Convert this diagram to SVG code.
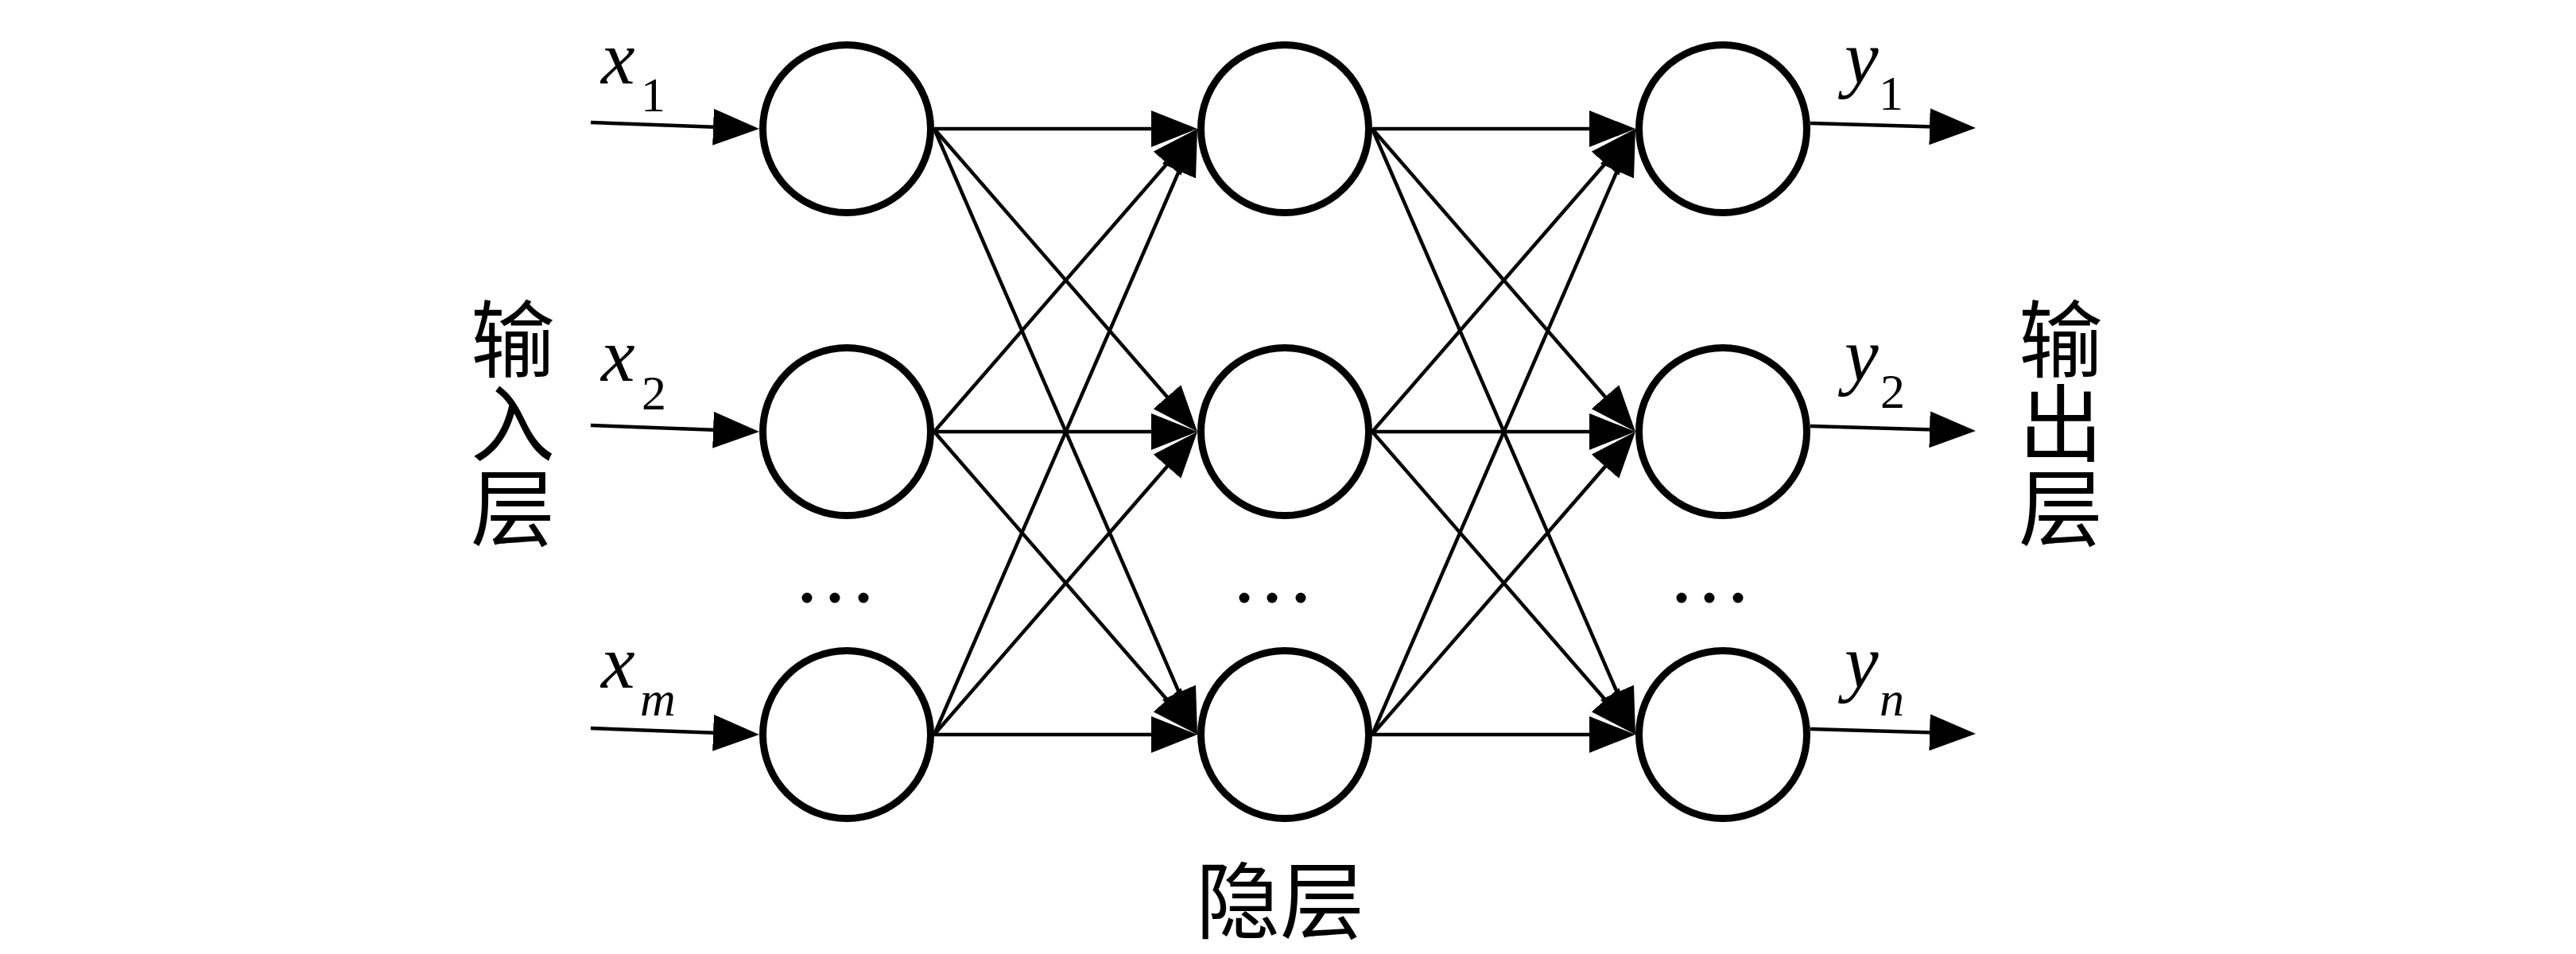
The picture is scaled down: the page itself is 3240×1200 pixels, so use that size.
<svg xmlns="http://www.w3.org/2000/svg" width="3240" height="1200" viewBox="0 0 3240 1200">
<style>
.node{fill:#fff;stroke:#000;stroke-width:9}
.conn{stroke:#000;stroke-width:4.5;fill:none;marker-end:url(#ah)}
.var{font-family:"Liberation Serif","Times New Roman",serif;font-style:italic;font-size:96px;fill:#000}
.sub{font-family:"Liberation Serif","Times New Roman",serif;font-size:62px;fill:#000}
.subi{font-family:"Liberation Serif","Times New Roman",serif;font-style:italic;font-size:62px;fill:#000}
.cjk{font-family:"Noto Sans CJK SC","Noto Sans",sans-serif;font-size:106px;fill:#000;text-anchor:middle}
.vcjk{font-family:"Noto Sans CJK SC","Noto Sans",sans-serif;font-size:106px;fill:#000;writing-mode:vertical-rl;text-anchor:start}
.dot{fill:#000}
</style>
<defs>
<marker id="ah" viewBox="0 0 58 46" refX="48" refY="23" markerWidth="58" markerHeight="46" markerUnits="userSpaceOnUse" orient="auto">
<path d="M0,0 L58,23 L0,46 Z" fill="#000"/>
</marker>
</defs>
<rect width="3240" height="1200" fill="#fff"/>

<g id="connectors">
<line class="conn" x1="743" y1="154" x2="945" y2="161.6"/>
<line class="conn" x1="743" y1="535" x2="945" y2="542.6"/>
<line class="conn" x1="743" y1="916" x2="945" y2="923.6"/>
<line class="conn" x1="1175" y1="162" x2="1496" y2="162"/>
<line class="conn" x1="1175" y1="162" x2="1499.44" y2="535.45"/>
<line class="conn" x1="1175" y1="162" x2="1502.02" y2="914.83"/>
<line class="conn" x1="1175" y1="543" x2="1499.44" y2="169.55"/>
<line class="conn" x1="1175" y1="543" x2="1496" y2="543"/>
<line class="conn" x1="1175" y1="543" x2="1499.44" y2="916.45"/>
<line class="conn" x1="1175" y1="924" x2="1502.02" y2="171.17"/>
<line class="conn" x1="1175" y1="924" x2="1499.44" y2="550.55"/>
<line class="conn" x1="1175" y1="924" x2="1496" y2="924"/>
<line class="conn" x1="1726" y1="162" x2="2047" y2="162"/>
<line class="conn" x1="1726" y1="162" x2="2050.44" y2="535.45"/>
<line class="conn" x1="1726" y1="162" x2="2053.02" y2="914.83"/>
<line class="conn" x1="1726" y1="543" x2="2050.44" y2="169.55"/>
<line class="conn" x1="1726" y1="543" x2="2047" y2="543"/>
<line class="conn" x1="1726" y1="543" x2="2050.44" y2="916.45"/>
<line class="conn" x1="1726" y1="924" x2="2053.02" y2="171.17"/>
<line class="conn" x1="1726" y1="924" x2="2050.44" y2="550.55"/>
<line class="conn" x1="1726" y1="924" x2="2047" y2="924"/>
<line class="conn" x1="2277" y1="155" x2="2475" y2="160.7"/>
<line class="conn" x1="2277" y1="536" x2="2475" y2="541.7"/>
<line class="conn" x1="2277" y1="917" x2="2475" y2="922.7"/>
</g>

<g id="input-1"><circle class="node" cx="1065" cy="162" r="105.5"/></g>
<g id="input-2"><circle class="node" cx="1065" cy="543" r="105.5"/></g>
<g id="input-m"><circle class="node" cx="1065" cy="924" r="105.5"/></g>
<g id="hidden-1"><circle class="node" cx="1616" cy="162" r="105.5"/></g>
<g id="hidden-2"><circle class="node" cx="1616" cy="543" r="105.5"/></g>
<g id="hidden-k"><circle class="node" cx="1616" cy="924" r="105.5"/></g>
<g id="output-1"><circle class="node" cx="2167" cy="162" r="105.5"/></g>
<g id="output-2"><circle class="node" cx="2167" cy="543" r="105.5"/></g>
<g id="output-n"><circle class="node" cx="2167" cy="924" r="105.5"/></g>

<g id="ellipses">
<circle class="dot" cx="1015" cy="752" r="6.5"/><circle class="dot" cx="1050" cy="752" r="6.5"/><circle class="dot" cx="1086" cy="752" r="6.5"/>
<circle class="dot" cx="1565" cy="752" r="6.5"/><circle class="dot" cx="1600" cy="752" r="6.5"/><circle class="dot" cx="1636" cy="752" r="6.5"/>
<circle class="dot" cx="2115" cy="752" r="6.5"/><circle class="dot" cx="2150" cy="752" r="6.5"/><circle class="dot" cx="2186" cy="752" r="6.5"/>
</g>

<g id="input-labels">
<text class="var" x="756" y="105">x</text><text class="sub" x="806" y="140">1</text>
<text class="var" x="756" y="479">x</text><text class="sub" x="807" y="515">2</text>
<text class="var" x="756" y="865">x</text><text class="subi" x="805" y="900">m</text>
</g>
<g id="output-labels">
<text class="var" x="2320" y="105">y</text><text class="sub" x="2363" y="138">1</text>
<text class="var" x="2320" y="479">y</text><text class="sub" x="2365" y="513">2</text>
<text class="var" x="2320" y="865">y</text><text class="subi" x="2364" y="900">n</text>
</g>

<g id="input-layer-label">
<text class="vcjk" x="645" y="373">输入层</text>
</g>
<g id="output-layer-label">
<text class="vcjk" x="2592" y="373">输出层</text>
</g>
<g id="hidden-layer-label">
<text class="cjk" x="1610" y="1172">隐层</text>
</g>
</svg>
